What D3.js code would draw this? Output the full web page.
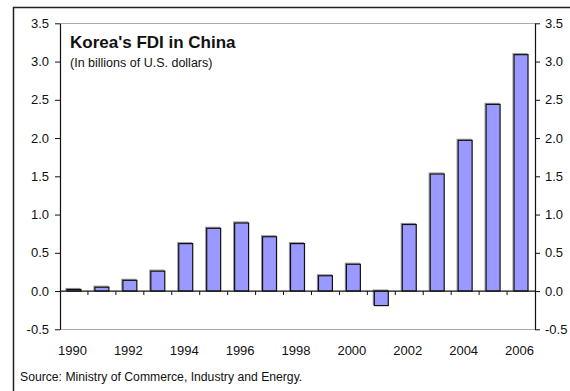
<!DOCTYPE html>
<html>
<head>
<meta charset="utf-8">
<script src="https://cdn.jsdelivr.net/npm/d3@7"></script>
<style>
  html, body { margin: 0; padding: 0; background: #fff; }
  svg { display: block; font-family: "Liberation Sans", Arial, sans-serif; }
</style>
</head>
<body>
<svg id="chart" width="570" height="391"></svg>
<script>
// Korea's FDI in China, billions of U.S. dollars
const years = [1990, 1991, 1992, 1993, 1994, 1995, 1996, 1997, 1998, 1999,
               2000, 2001, 2002, 2003, 2004, 2005, 2006];
const fdi = [0.02, 0.05, 0.14, 0.26, 0.62, 0.82, 0.89, 0.71, 0.62, 0.20,
             0.35, -0.19, 0.87, 1.53, 1.97, 2.44, 3.09];
const yTicks = [-0.5, 0.0, 0.5, 1.0, 1.5, 2.0, 2.5, 3.0, 3.5];
const xLabels = [1990, 1992, 1994, 1996, 1998, 2000, 2002, 2004, 2006];

const svg = d3.select("#chart");
const plotLeft = 60, plotRight = 535, plotTop = 23.3, plotBottom = 329.3;

// outer frame
svg.append("rect")
  .attr("x", 13.5).attr("y", 7.5)
  .attr("width", 600).attr("height", 500)
  .attr("fill", "none").attr("stroke", "#222").attr("stroke-width", 1.5);

const x = d3.scaleBand().domain(years).range([plotLeft, plotRight]).paddingInner(0).paddingOuter(0);
const y = d3.scaleLinear().domain([-0.5, 3.5]).range([plotBottom, plotTop]);

// gray top and bottom rules
svg.selectAll("line.rule").data([3.5, -0.5]).enter().append("line")
  .attr("x1", plotLeft).attr("x2", plotRight)
  .attr("y1", d => Math.round(y(d)) + 0.5).attr("y2", d => Math.round(y(d)) + 0.5)
  .attr("stroke", "#aaa").attr("stroke-width", 1.2);

// bars with a soft gray shadow
const bw = x.bandwidth() * 0.5;
const bars = svg.append("g");
bars.selectAll("rect.shadow").data(fdi).enter().append("rect")
  .attr("x", (d, i) => x(years[i]) + (x.bandwidth() - bw) / 2 - 1)
  .attr("y", d => Math.min(y(d), y(0)) - 1)
  .attr("width", bw)
  .attr("height", d => Math.abs(y(d) - y(0)))
  .attr("fill", "none").attr("stroke", "#999").attr("stroke-width", 1.2);
bars.selectAll("rect.bar").data(fdi).enter().append("rect")
  .attr("x", (d, i) => x(years[i]) + (x.bandwidth() - bw) / 2)
  .attr("y", d => Math.min(y(d), y(0)))
  .attr("width", bw)
  .attr("height", d => Math.abs(y(d) - y(0)))
  .attr("fill", "#9999ff").attr("stroke", "#111").attr("stroke-width", 1.2);

// left and right value axes (hyphen-minus for negatives)
const fmt = d => d.toFixed(1);
const yl = svg.append("g").attr("transform", `translate(${plotLeft},0)`)
  .call(d3.axisLeft(y).tickValues(yTicks).tickFormat(fmt).tickSize(5).tickSizeOuter(0));
const yr = svg.append("g").attr("transform", `translate(${plotRight},0)`)
  .call(d3.axisRight(y).tickValues(yTicks).tickFormat(fmt).tickSize(5).tickSizeOuter(0));
[yl, yr].forEach(g => {
  g.select(".domain").attr("stroke", "#111").attr("stroke-width", 1.2);
  g.selectAll(".tick line").attr("stroke", "#111");
  g.selectAll("text").attr("font-size", 13).attr("fill", "#111")
    .attr("font-family", "Liberation Sans, Arial, sans-serif");
});
yl.selectAll("text").attr("x", -11);
yr.selectAll("text").attr("x", 10);

// zero line with category boundary ticks
const zy = y(0);
svg.append("line").attr("x1", plotLeft).attr("x2", plotRight)
  .attr("y1", zy).attr("y2", zy).attr("stroke", "#111").attr("stroke-width", 1.2);
svg.selectAll("line.ctick").data(years.slice(1)).enter().append("line")
  .attr("x1", d => x(d)).attr("x2", d => x(d))
  .attr("y1", zy).attr("y2", zy + 4).attr("stroke", "#111");

// year labels
svg.selectAll("text.year").data(xLabels).enter().append("text")
  .attr("x", d => x(d) + x.bandwidth() / 2 - 1.5)
  .attr("y", 355)
  .attr("text-anchor", "middle")
  .attr("font-size", 13).attr("fill", "#111")
  .text(d => d);

// titles
svg.append("text").attr("x", 70).attr("y", 48)
  .attr("font-size", 17).attr("font-weight", "bold").attr("fill", "#111")
  .text("Korea's FDI in China");
svg.append("text").attr("x", 70).attr("y", 67)
  .attr("font-size", 12.5).attr("fill", "#111")
  .text("(In billions of U.S. dollars)");

// source
svg.append("text").attr("x", 20).attr("y", 381)
  .attr("font-size", 12.2).attr("fill", "#111")
  .text("Source: Ministry of Commerce, Industry and Energy.");
</script>
</body>
</html>
